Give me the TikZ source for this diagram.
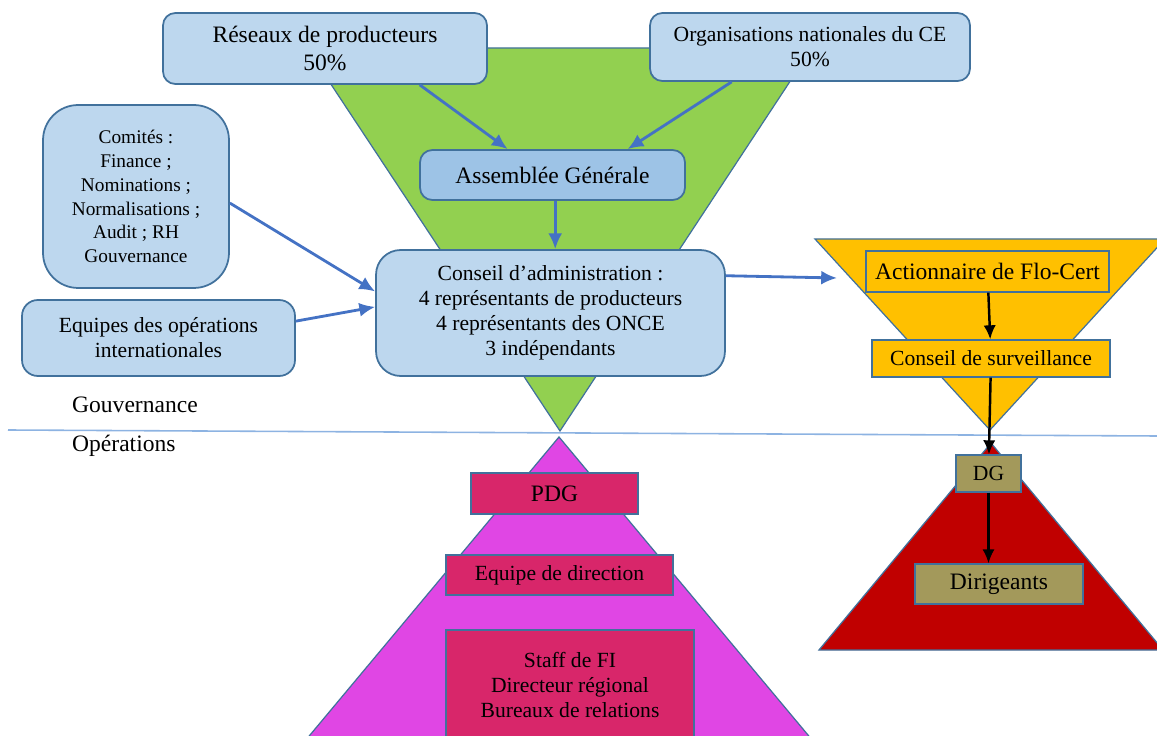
\documentclass[tikz,border=0pt]{standalone}
\usepackage{fontspec}
\setmainfont{Liberation Serif}
\usetikzlibrary{positioning,arrows.meta}

\definecolor{boxblue}{HTML}{BDD7EE}
\definecolor{agblue}{HTML}{9DC3E6}
\definecolor{edgeblue}{HTML}{41719C}
\definecolor{arrowblue}{HTML}{4472C4}
\definecolor{lineblue}{HTML}{8DB3E2}
\definecolor{trigreen}{HTML}{92D050}
\definecolor{triorange}{HTML}{FFC000}
\definecolor{trimagenta}{HTML}{E046E4}
\definecolor{trired}{HTML}{C00000}
\definecolor{boxcrimson}{HTML}{D8266A}
\definecolor{boxolive}{HTML}{A3995B}

\newcommand*{\txt}{\fontsize{12.3}{14.2}\selectfont}
\newcommand*{\bigtxt}{\fontsize{13.4}{15.4}\selectfont}
\newcommand*{\smalltxt}{\fontsize{11}{13.6}\selectfont}

\tikzset{
  govbox/.style={draw=edgeblue, fill=boxblue, line width=1pt, rounded corners=7pt,
    align=center, inner sep=0pt, font=\txt},
  flatbox/.style={draw=edgeblue, line width=0.7pt, align=center, inner sep=0pt, font=\txt},
  tri/.style={draw=edgeblue, line width=0.7pt},
  bluearrow/.style={draw=arrowblue, line width=1.6pt, -{Latex[length=9pt,width=8pt]}},
  blackarrow/.style={draw=black, line width=1.4pt, -{Latex[length=8pt,width=7pt]}},
}

\begin{document}
\begin{tikzpicture}[x=0.02cm, y=-0.02cm]
    \clip (0,0) rectangle (1157,736);

    % the four triangles
    \filldraw [tri, fill=trigreen] (307,48) -- (812,48) -- (560,431) -- cycle;
    \filldraw [tri, fill=triorange] (815,239) -- (1165,239) -- (990,430) -- cycle;
    \filldraw [tri, fill=trired] (991,443) -- (1163,650) -- (819,650) -- cycle;
    \filldraw [tri, fill=trimagenta] (559,437) -- (818,747) -- (300,747) -- cycle;

    % split governance / operations
    \draw [lineblue, line width=0.9pt] (8,430) -- (1157,436);
    \node [anchor=west, font=\bigtxt] (gouv) at (66,405) {Gouvernance};
    \node [anchor=west, font=\bigtxt] (oper) at (66,446) {Opérations};

    % governance
    \node [govbox, font=\bigtxt, minimum width=6.48cm, minimum height=1.42cm] (res) at (325,48.5)
        {Réseaux de producteurs\\50\%};
    \node [govbox, minimum width=6.4cm, minimum height=1.36cm] (org) at (810,47)
        {Organisations nationales du CE\\50\%};
    \node [govbox, fill=agblue, font=\bigtxt, minimum width=5.3cm, minimum height=1cm] (ag) at (552.5,175)
        {Assemblée Générale};
    \node [govbox, rounded corners=14pt, minimum width=6.98cm, minimum height=2.52cm] (ca) at (550.5,313)
        {Conseil d’administration :\\4 représentants de producteurs\\4 représentants des ONCE\\3 indépendants};
    \node [govbox, rounded corners=20pt, font=\smalltxt, minimum width=3.72cm, minimum height=3.66cm] (com) at (136,196.5)
        {Comités :\\Finance ;\\Nominations ;\\Normalisations ;\\Audit ; RH\\Gouvernance};
    \node [govbox, rounded corners=9pt, minimum width=5.46cm, minimum height=1.52cm] (equ) at (158.5,338)
        {Equipes des opérations\\internationales};

    % Flo-Cert
    \node [flatbox, fill=triorange, font=\bigtxt, minimum width=4.86cm, minimum height=0.82cm] (act) at (987.5,271.5)
        {Actionnaire de Flo-Cert};
    \node [flatbox, fill=triorange, minimum width=4.76cm, minimum height=0.74cm] (cs) at (991,358.5)
        {Conseil de surveillance};
    \node [flatbox, fill=boxolive, minimum width=1.3cm, minimum height=0.74cm] (dg) at (988.5,473.5) {DG};
    \node [flatbox, fill=boxolive, font=\bigtxt, minimum width=3.36cm, minimum height=0.8cm] (dir) at (999,584)
        {Dirigeants};
    \coordinate (flo) at (837,278);

    % operations
    \node [flatbox, fill=boxcrimson, font=\bigtxt, minimum width=3.34cm, minimum height=0.82cm] (pdg) at (554.5,493.5) {PDG};
    \node [flatbox, fill=boxcrimson, minimum width=4.54cm, minimum height=0.8cm] (eqd) at (559.5,575)
        {Equipe de direction};
    \node [flatbox, fill=boxcrimson, minimum width=4.96cm, minimum height=2.2cm] (staff) at (570,685)
        {Staff de FI\\Directeur régional\\Bureaux de relations};

    % arrows
    \draw [bluearrow] (res.-21) -- (ag.150);
    \draw [bluearrow] (org.-156) -- (ag.19);
    \draw [bluearrow] (ag.-84) -- (ag.-84 |- ca.north);
    \draw [bluearrow] (com.-4) -- (ca.173);
    \draw [bluearrow] (equ.7) -- (ca.178);
    \draw [bluearrow] (ca.12) -- (flo);
    \draw [blackarrow] (act) -- (cs);
    \draw [blackarrow] (cs) -- (dg);
    \draw [blackarrow] (dg.south) -- (dg.south |- dir.north);
\end{tikzpicture}
\end{document}
